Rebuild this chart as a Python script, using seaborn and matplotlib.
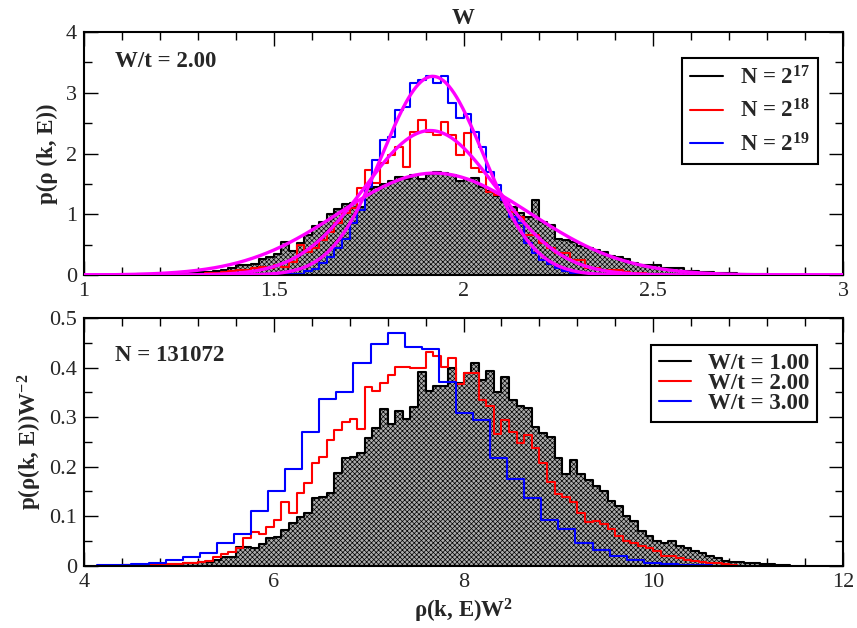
import numpy as np
import pandas as pd
import matplotlib
matplotlib.use("Agg")
import matplotlib.pyplot as plt
from matplotlib.ticker import MultipleLocator, FormatStrFormatter
from matplotlib.lines import Line2D
import seaborn as sns

# ---------------- data: upper panel, W/t = 2.00, bins of width 0.02 in rho ----------------
top_width = 0.02
n17_start = 1.10
n17_vals = [0.005, 0.005, 0.01, 0.01, 0.015, 0.02, 0.02, 0.03, 0.03, 0.04,
            0.05, 0.05, 0.06, 0.09, 0.11, 0.16, 0.17, 0.19, 0.27, 0.30,
            0.34, 0.55, 0.40, 0.52, 0.66, 0.80, 0.88, 1.00, 1.08, 1.17,
            1.19, 1.12, 1.42, 1.45, 1.50, 1.55, 1.62, 1.58, 1.64, 1.58,
            1.66, 1.70, 1.68, 1.65, 1.55, 1.58, 1.59, 1.45, 1.38, 1.30,
            1.20, 1.12, 1.02, 0.96, 1.23, 0.87, 0.82, 0.60, 0.57, 0.54,
            0.48, 0.44, 0.41, 0.38, 0.32, 0.29, 0.26, 0.20, 0.17, 0.16,
            0.16, 0.11, 0.12, 0.12, 0.07, 0.07, 0.05, 0.05, 0.04, 0.03,
            0.03, 0.02, 0.02, 0.01, 0.01]

n18_start = 1.30
n18_vals = [0.02, 0.03, 0.04, 0.05, 0.06, 0.08, 0.08, 0.12, 0.14, 0.11,
            0.16, 0.14, 0.22, 0.49, 0.38, 0.44, 0.58, 0.71, 0.85, 1.02,
            1.10, 1.43, 1.73, 1.51, 1.84, 1.98, 2.11, 1.78, 2.36, 2.55,
            2.36, 2.30, 2.52, 2.30, 1.98, 2.33, 1.76, 1.70, 1.37, 1.32,
            1.23, 1.04, 0.96, 0.66, 0.66, 0.52, 0.44, 0.36, 0.36, 0.25,
            0.25, 0.11, 0.11, 0.08, 0.08, 0.08, 0.05, 0.04, 0.03, 0.02,
            0.02]

n19_start = 1.50
n19_vals = [0.01, 0.01, 0.02, 0.02, 0.06, 0.10, 0.20, 0.30, 0.45, 0.60,
            0.85, 1.07, 1.45, 1.89, 2.22, 2.28, 2.72, 2.77, 3.16, 3.21,
            3.27, 3.16, 3.27, 2.83, 2.58, 2.65, 2.36, 2.11, 1.70, 1.48,
            1.23, 0.96, 0.85, 0.52, 0.36, 0.25, 0.19, 0.11, 0.07, 0.04,
            0.03, 0.02, 0.01]

top_labels = [r"N = 2$^{\mathbf{17}}$", r"N = 2$^{\mathbf{18}}$", r"N = 2$^{\mathbf{19}}$"]

# ---------------- data: lower panel, N = 131072, scaled variable rho*W^2 ----------------
w1_width = 0.08
w1_start = 4.40
w1_vals = [0.001, 0.001, 0.001, 0.002, 0.002, 0.003, 0.003, 0.004, 0.005, 0.006,
           0.007, 0.008, 0.012, 0.018, 0.018, 0.038, 0.038,
           0.035, 0.044, 0.055, 0.058, 0.072, 0.086, 0.099, 0.107, 0.136, 0.138,
           0.146, 0.187, 0.217, 0.220, 0.227, 0.257, 0.278, 0.316, 0.286, 0.313,
           0.296, 0.320, 0.392, 0.353, 0.363, 0.363, 0.399, 0.368, 0.389, 0.409,
           0.375, 0.394, 0.350, 0.380, 0.335, 0.323, 0.318, 0.280, 0.267, 0.260,
           0.217, 0.185, 0.213, 0.185, 0.173, 0.160,
           0.150, 0.130, 0.120, 0.100, 0.090, 0.070, 0.060, 0.050, 0.045, 0.050,
           0.040, 0.035, 0.030, 0.025, 0.020, 0.015, 0.010, 0.008, 0.008, 0.006,
           0.005, 0.004, 0.003, 0.002, 0.002]

w2_width = 0.08
w2_start = 4.40
w2_vals = [0.001, 0.001, 0.001, 0.002, 0.002, 0.003, 0.003, 0.004, 0.005, 0.006,
           0.008, 0.010, 0.018, 0.024, 0.028, 0.035, 0.055,
           0.068, 0.065, 0.079, 0.092, 0.129, 0.106, 0.146, 0.166, 0.207, 0.220,
           0.254, 0.274, 0.291, 0.296, 0.276, 0.360, 0.352, 0.368, 0.385, 0.402,
           0.402, 0.399, 0.400, 0.432, 0.424, 0.402, 0.419, 0.367, 0.390, 0.390,
           0.335, 0.323, 0.266, 0.294, 0.269, 0.248, 0.264, 0.237, 0.208, 0.168,
           0.145, 0.139, 0.129, 0.107, 0.089, 0.090,
           0.085, 0.075, 0.060, 0.050, 0.045, 0.040, 0.035, 0.030, 0.020, 0.020,
           0.015, 0.012, 0.010, 0.008, 0.006, 0.005, 0.004, 0.002]

w3_width = 0.18
w3_start = 4.14
w3_vals = [0.001, 0.001, 0.003, 0.006, 0.011, 0.017, 0.025, 0.046, 0.065, 0.111,
           0.150, 0.195, 0.270, 0.337, 0.350, 0.410, 0.448, 0.470, 0.442, 0.437,
           0.370, 0.308, 0.294, 0.218, 0.175, 0.136, 0.092, 0.074, 0.045, 0.032,
           0.020, 0.012, 0.006, 0.004, 0.002, 0.001]

bottom_labels = ["W/t = 1.00", "W/t = 2.00", "W/t = 3.00"]

# ---------------- style ----------------
sns.set_theme(style="white")
plt.rcParams["font.family"] = ["Liberation Serif", "DejaVu Serif"]
plt.rcParams["mathtext.fontset"] = "custom"
plt.rcParams["mathtext.rm"] = "Liberation Serif"
plt.rcParams["mathtext.bf"] = "Liberation Serif:bold"
plt.rcParams["mathtext.it"] = "Liberation Serif:italic"
plt.rcParams["hatch.linewidth"] = 0.5
plt.rcParams["hatch.color"] = "#1a1a1a"

COLORS = ["black", "#ff0000", "#0000ff"]
MAGENTA = "#ff00ff"
LW = 1.5
TXT = 16.5


def histogram_frame(start, width, vals):
    vals = np.asarray(vals, dtype=float)
    edges = start + width * np.arange(len(vals) + 1)
    centers = 0.5 * (edges[:-1] + edges[1:])
    return pd.DataFrame({"x": centers, "p": vals}), edges.tolist()


def gaussian_fit(df):
    # weighted log-quadratic least squares (Guo's method)
    sel = df["p"] > 0
    x = df["x"][sel].to_numpy()
    y = df["p"][sel].to_numpy()
    c2, c1, c0 = np.polyfit(x, np.log(y), 2, w=y)
    mu = -c1 / (2 * c2)
    sigma = np.sqrt(-1.0 / (2 * c2))
    amp = np.exp(c0 - c1 ** 2 / (4 * c2))
    return mu, sigma, amp


def draw_hist(ax, df, edges, color, filled):
    if filled:
        sns.histplot(data=df, x="x", weights="p", bins=edges, element="step",
                     fill=True, facecolor="#acacac", edgecolor=color, hatch="xxxxxxx",
                     alpha=1, linewidth=LW, ax=ax, zorder=1)
    else:
        sns.histplot(data=df, x="x", weights="p", bins=edges, element="step",
                     fill=False, color=color, linewidth=LW, ax=ax, zorder=2)


def style_axes(ax, xmaj, xmin, ymaj, ymin):
    ax.xaxis.set_major_locator(MultipleLocator(xmaj))
    ax.xaxis.set_minor_locator(MultipleLocator(xmin))
    ax.yaxis.set_major_locator(MultipleLocator(ymaj))
    ax.yaxis.set_minor_locator(MultipleLocator(ymin))
    ax.tick_params(which="both", direction="in", top=True, right=True,
                   bottom=True, left=True, width=1.0, color="black")
    ax.tick_params(which="major", length=10, labelsize=16, pad=5)
    ax.tick_params(which="minor", length=5.5)
    for s in ax.spines.values():
        s.set_linewidth(1.5)
        s.set_color("black")
    ax.xaxis.set_major_formatter(FormatStrFormatter("%g"))
    ax.yaxis.set_major_formatter(FormatStrFormatter("%g"))


def legend(ax, labels, anchor, spacing):
    handles = [Line2D([], [], color=c, lw=1.5) for c in COLORS]
    leg = ax.legend(handles, labels, loc="upper right", bbox_to_anchor=anchor,
                    frameon=True, fancybox=False, edgecolor="black", framealpha=1,
                    prop=dict(family="Liberation Serif", weight="bold", size=TXT),
                    handlelength=1.4, handletextpad=0.75, labelspacing=spacing,
                    borderpad=0.35, borderaxespad=0)
    leg.get_frame().set_linewidth(1.5)


fig = plt.figure(figsize=(8.57, 6.28), dpi=100)
ax1 = fig.add_axes([0.098, 0.562, 0.8857, 0.387])
ax2 = fig.add_axes([0.098, 0.0992, 0.8857, 0.3944])

# ---------------- upper panel ----------------
top_sets = [(n17_start, n17_vals), (n18_start, n18_vals), (n19_start, n19_vals)]
xs = np.linspace(1.0, 3.0, 600)
fits = []
for i, (start, vals) in enumerate(top_sets):
    df, edges = histogram_frame(start, top_width, vals)
    draw_hist(ax1, df, edges, COLORS[i], filled=(i == 0))
    fits.append(gaussian_fit(df))
for mu, sigma, amp in fits:
    curve = pd.DataFrame({"x": xs, "p": amp * np.exp(-(xs - mu) ** 2 / (2 * sigma ** 2))})
    sns.lineplot(data=curve, x="x", y="p", color=MAGENTA, linewidth=2.4, ax=ax1, zorder=3)

ax1.set_xlim(1, 3)
ax1.set_ylim(0, 4)
style_axes(ax1, 0.5, 0.1, 1, 0.5)
ax1.set_xlabel("")
ax1.set_ylabel("p(ρ (k, E))", fontsize=TXT, fontweight="bold", labelpad=6)
ax1.set_title("W", fontsize=TXT, fontweight="bold", pad=6)
ax1.text(0.041, 0.877, "W/t = 2.00", transform=ax1.transAxes, fontsize=TXT,
         fontweight="bold", ha="left", va="center")
legend(ax1, top_labels, (0.967, 0.893), 0.45)

# ---------------- lower panel ----------------
bottom_sets = [(w1_start, w1_width, w1_vals), (w2_start, w2_width, w2_vals),
               (w3_start, w3_width, w3_vals)]
for i, (start, width, vals) in enumerate(bottom_sets):
    df, edges = histogram_frame(start, width, vals)
    draw_hist(ax2, df, edges, COLORS[i], filled=(i == 0))

ax2.set_xlim(4, 12)
ax2.set_ylim(0, 0.5)
style_axes(ax2, 2, 0.4, 0.1, 0.05)
ax2.set_xlabel(r"ρ(k, E)W$^{\mathbf{2}}$", fontsize=TXT, fontweight="bold", labelpad=4)
ax2.set_ylabel(r"p(ρ(k, E))W$^{\mathbf{-2}}$", fontsize=TXT, fontweight="bold", labelpad=4)
ax2.text(0.041, 0.85, "N = 131072", transform=ax2.transAxes, fontsize=TXT,
         fontweight="bold", ha="left", va="center")
legend(ax2, bottom_labels, (0.966, 0.891), -0.05)

fig.savefig("out.png", dpi=100)
